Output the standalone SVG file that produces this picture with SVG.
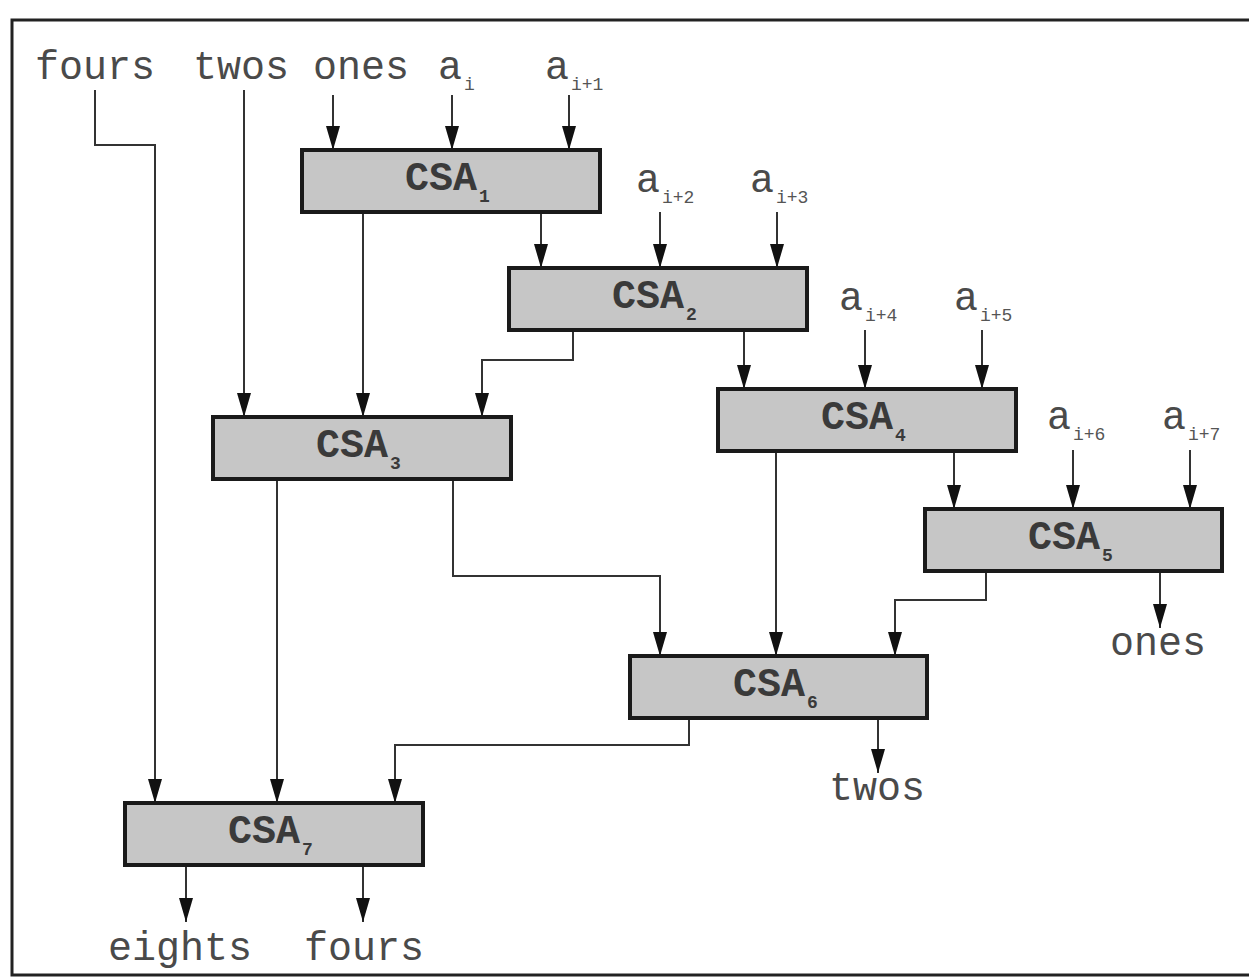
<svg xmlns="http://www.w3.org/2000/svg" width="1249" height="980" viewBox="0 0 1249 980">
<style>
.box{fill:#c6c6c6;stroke:#1a1a1a;stroke-width:4}
.csa{font-family:"Liberation Mono","DejaVu Sans Mono",monospace;font-size:40px;fill:#3a3a3a;font-weight:bold}
.lbl{font-family:"Liberation Mono","DejaVu Sans Mono",monospace;font-size:40px;fill:#4a4a4a}
.sub{font-family:"Liberation Mono","DejaVu Sans Mono",monospace;font-size:18px;fill:#555}
.csub{font-family:"Liberation Mono","DejaVu Sans Mono",monospace;font-size:18px;fill:#3a3a3a;font-weight:bold}
.w{fill:none;stroke:#333;stroke-width:2}
</style>
<defs>
<marker id="a" markerWidth="24" markerHeight="14" refX="24" refY="7" orient="auto" markerUnits="userSpaceOnUse" viewBox="0 0 24 14">
<path d="M0,0 L24,7 L0,14 Z" fill="#111"/>
</marker>
</defs>
<rect x="12" y="20" width="1250" height="955" fill="#fff" stroke="#222" stroke-width="3"/>

<g id="labels">
<text class="lbl" x="35" y="79">fours</text>
<text class="lbl" x="193" y="79">twos</text>
<text class="lbl" x="313" y="79">ones</text>
<text class="lbl" x="438" y="79">a</text><text class="sub" x="464" y="90">i</text>
<text class="lbl" x="545" y="79">a</text><text class="sub" x="571" y="90">i+1</text>
<text class="lbl" x="636" y="192">a</text><text class="sub" x="662" y="203">i+2</text>
<text class="lbl" x="750" y="192">a</text><text class="sub" x="776" y="203">i+3</text>
<text class="lbl" x="839" y="310">a</text><text class="sub" x="865" y="321">i+4</text>
<text class="lbl" x="954" y="310">a</text><text class="sub" x="980" y="321">i+5</text>
<text class="lbl" x="1047" y="429">a</text><text class="sub" x="1073" y="440">i+6</text>
<text class="lbl" x="1162" y="429">a</text><text class="sub" x="1188" y="440">i+7</text>
<text class="lbl" x="1110" y="655">ones</text>
<text class="lbl" x="829" y="800">twos</text>
<text class="lbl" x="108" y="960">eights</text>
<text class="lbl" x="304" y="960">fours</text>
</g>

<g id="connectors">
<path class="w" marker-end="url(#a)" d="M333,95 V150"/>
<path class="w" marker-end="url(#a)" d="M452,95 V150"/>
<path class="w" marker-end="url(#a)" d="M569,95 V150"/>
<path class="w" marker-end="url(#a)" d="M95,90 V145 H155 V803"/>
<path class="w" marker-end="url(#a)" d="M244,90 V417"/>
<path class="w" marker-end="url(#a)" d="M363,212 V417"/>
<path class="w" marker-end="url(#a)" d="M541,212 V268"/>
<path class="w" marker-end="url(#a)" d="M660,212 V268"/>
<path class="w" marker-end="url(#a)" d="M777,212 V268"/>
<path class="w" marker-end="url(#a)" d="M573,330 V360 H482 V417"/>
<path class="w" marker-end="url(#a)" d="M744,330 V389"/>
<path class="w" marker-end="url(#a)" d="M865,330 V389"/>
<path class="w" marker-end="url(#a)" d="M982,330 V389"/>
<path class="w" marker-end="url(#a)" d="M277,479 V803"/>
<path class="w" marker-end="url(#a)" d="M453,479 V576 H660 V656"/>
<path class="w" marker-end="url(#a)" d="M776,451 V656"/>
<path class="w" marker-end="url(#a)" d="M954,451 V509"/>
<path class="w" marker-end="url(#a)" d="M1073,450 V509"/>
<path class="w" marker-end="url(#a)" d="M1190,450 V509"/>
<path class="w" marker-end="url(#a)" d="M986,571 V600 H895 V656"/>
<path class="w" marker-end="url(#a)" d="M1160,571 V628"/>
<path class="w" marker-end="url(#a)" d="M689,718 V745 H395 V803"/>
<path class="w" marker-end="url(#a)" d="M878,718 V773"/>
<path class="w" marker-end="url(#a)" d="M186,865 V922"/>
<path class="w" marker-end="url(#a)" d="M363,865 V922"/>
</g>

<g id="csa1"><rect class="box" x="302" y="150" width="298" height="62"/><text class="csa" x="405" y="190">CSA</text><text class="csub" x="479" y="202">1</text></g>
<g id="csa2"><rect class="box" x="509" y="268" width="298" height="62"/><text class="csa" x="612" y="308">CSA</text><text class="csub" x="686" y="320">2</text></g>
<g id="csa3"><rect class="box" x="213" y="417" width="298" height="62"/><text class="csa" x="316" y="457">CSA</text><text class="csub" x="390" y="469">3</text></g>
<g id="csa4"><rect class="box" x="718" y="389" width="298" height="62"/><text class="csa" x="821" y="429">CSA</text><text class="csub" x="895" y="441">4</text></g>
<g id="csa5"><rect class="box" x="925" y="509" width="297" height="62"/><text class="csa" x="1028" y="549">CSA</text><text class="csub" x="1102" y="561">5</text></g>
<g id="csa6"><rect class="box" x="630" y="656" width="297" height="62"/><text class="csa" x="733" y="696">CSA</text><text class="csub" x="807" y="708">6</text></g>
<g id="csa7"><rect class="box" x="125" y="803" width="298" height="62"/><text class="csa" x="228" y="843">CSA</text><text class="csub" x="302" y="855">7</text></g>
</svg>
